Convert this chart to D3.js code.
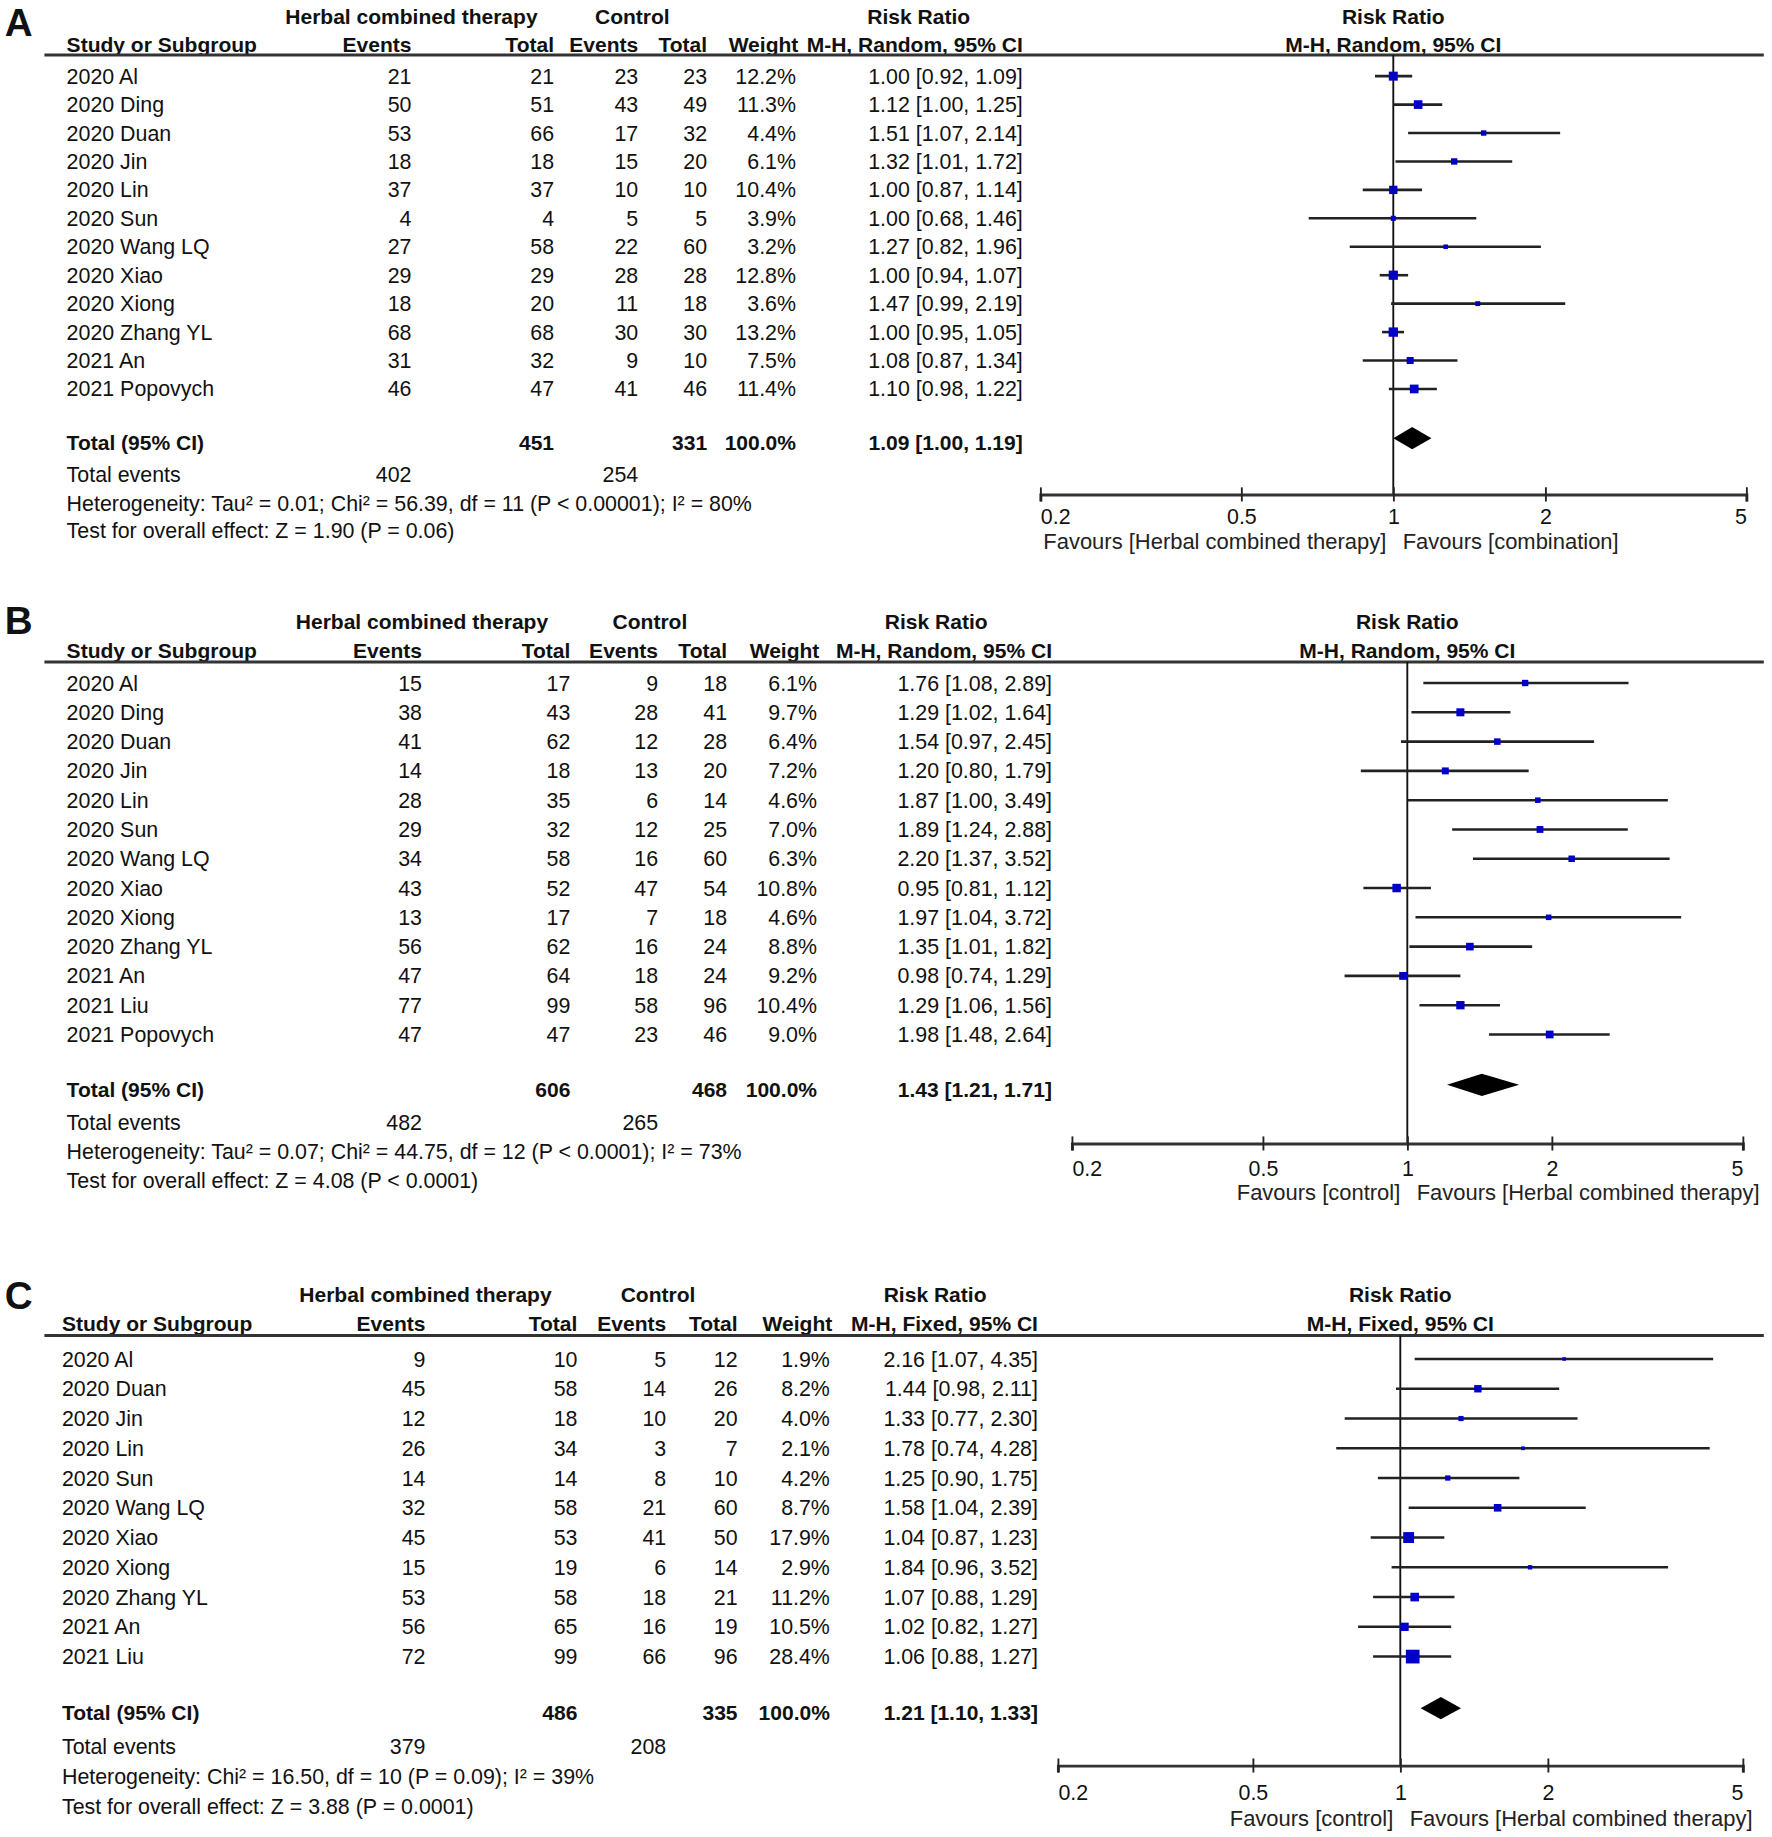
<!DOCTYPE html>
<html>
<head>
<meta charset="utf-8">
<script src="https://cdn.jsdelivr.net/npm/d3@7"></script>
<style>
  body { margin: 0; background: #fff; }
  svg { display: block; }
  text { font-family: "Liberation Sans", Arial, sans-serif; fill: #111; font-size: 18.3px; }
  text.b { font-size: 18px; font-weight: bold; }
</style>
</head>
<body>
<div id="chart"></div>
<script>
// study, herbal events, herbal total, control events, control total, weight %, RR, lower, upper
var rowsA = [
  ["2020 Al", 21, 21, 23, 23, 12.2, 1.00, 0.92, 1.09],
  ["2020 Ding", 50, 51, 43, 49, 11.3, 1.12, 1.00, 1.25],
  ["2020 Duan", 53, 66, 17, 32, 4.4, 1.51, 1.07, 2.14],
  ["2020 Jin", 18, 18, 15, 20, 6.1, 1.32, 1.01, 1.72],
  ["2020 Lin", 37, 37, 10, 10, 10.4, 1.00, 0.87, 1.14],
  ["2020 Sun", 4, 4, 5, 5, 3.9, 1.00, 0.68, 1.46],
  ["2020 Wang LQ", 27, 58, 22, 60, 3.2, 1.27, 0.82, 1.96],
  ["2020 Xiao", 29, 29, 28, 28, 12.8, 1.00, 0.94, 1.07],
  ["2020 Xiong", 18, 20, 11, 18, 3.6, 1.47, 0.99, 2.19],
  ["2020 Zhang YL", 68, 68, 30, 30, 13.2, 1.00, 0.95, 1.05],
  ["2021 An", 31, 32, 9, 10, 7.5, 1.08, 0.87, 1.34],
  ["2021 Popovych", 46, 47, 41, 46, 11.4, 1.10, 0.98, 1.22]
];
var rowsB = [
  ["2020 Al", 15, 17, 9, 18, 6.1, 1.76, 1.08, 2.89],
  ["2020 Ding", 38, 43, 28, 41, 9.7, 1.29, 1.02, 1.64],
  ["2020 Duan", 41, 62, 12, 28, 6.4, 1.54, 0.97, 2.45],
  ["2020 Jin", 14, 18, 13, 20, 7.2, 1.20, 0.80, 1.79],
  ["2020 Lin", 28, 35, 6, 14, 4.6, 1.87, 1.00, 3.49],
  ["2020 Sun", 29, 32, 12, 25, 7.0, 1.89, 1.24, 2.88],
  ["2020 Wang LQ", 34, 58, 16, 60, 6.3, 2.20, 1.37, 3.52],
  ["2020 Xiao", 43, 52, 47, 54, 10.8, 0.95, 0.81, 1.12],
  ["2020 Xiong", 13, 17, 7, 18, 4.6, 1.97, 1.04, 3.72],
  ["2020 Zhang YL", 56, 62, 16, 24, 8.8, 1.35, 1.01, 1.82],
  ["2021 An", 47, 64, 18, 24, 9.2, 0.98, 0.74, 1.29],
  ["2021 Liu", 77, 99, 58, 96, 10.4, 1.29, 1.06, 1.56],
  ["2021 Popovych", 47, 47, 23, 46, 9.0, 1.98, 1.48, 2.64]
];
var rowsC = [
  ["2020 Al", 9, 10, 5, 12, 1.9, 2.16, 1.07, 4.35],
  ["2020 Duan", 45, 58, 14, 26, 8.2, 1.44, 0.98, 2.11],
  ["2020 Jin", 12, 18, 10, 20, 4.0, 1.33, 0.77, 2.30],
  ["2020 Lin", 26, 34, 3, 7, 2.1, 1.78, 0.74, 4.28],
  ["2020 Sun", 14, 14, 8, 10, 4.2, 1.25, 0.90, 1.75],
  ["2020 Wang LQ", 32, 58, 21, 60, 8.7, 1.58, 1.04, 2.39],
  ["2020 Xiao", 45, 53, 41, 50, 17.9, 1.04, 0.87, 1.23],
  ["2020 Xiong", 15, 19, 6, 14, 2.9, 1.84, 0.96, 3.52],
  ["2020 Zhang YL", 53, 58, 18, 21, 11.2, 1.07, 0.88, 1.29],
  ["2021 An", 56, 65, 16, 19, 10.5, 1.02, 0.82, 1.27],
  ["2021 Liu", 72, 99, 66, 96, 28.4, 1.06, 0.88, 1.27]
];

// herbal total, control total, weight, RR, lower, upper
var totalA = [451, 331, 100.0, 1.09, 1.00, 1.19];
var totalB = [606, 468, 100.0, 1.43, 1.21, 1.71];
var totalC = [486, 335, 100.0, 1.21, 1.10, 1.33];
// total events: herbal, control
var eventsA = [402, 254];
var eventsB = [482, 265];
var eventsC = [379, 208];

var hetA = "Heterogeneity: Tau² = 0.01; Chi² = 56.39, df = 11 (P < 0.00001); I² = 80%";
var hetB = "Heterogeneity: Tau² = 0.07; Chi² = 44.75, df = 12 (P < 0.0001); I² = 73%";
var hetC = "Heterogeneity: Chi² = 16.50, df = 10 (P = 0.09); I² = 39%";
var testA = "Test for overall effect: Z = 1.90 (P = 0.06)";
var testB = "Test for overall effect: Z = 4.08 (P < 0.0001)";
var testC = "Test for overall effect: Z = 3.88 (P = 0.0001)";
var favoursA = ["Favours [Herbal combined therapy]", "Favours [combination]"];
var favoursB = ["Favours [control]", "Favours [Herbal combined therapy]"];
var favoursC = ["Favours [control]", "Favours [Herbal combined therapy]"];

var tickValues = [0.2, 0.5, 1, 2, 5];

// drawing happens in a 1516 x 1568 coordinate space, stretched to the page
var VW = 1516, VH = 1568;

var svg = d3.select("#chart")
  .append("svg")
    .attr("width", 1772)
    .attr("height", 1837)
    .attr("viewBox", "0 0 " + VW + " " + VH)
    .attr("preserveAspectRatio", "none");

svg.append("rect").attr("width", VW).attr("height", VH).attr("fill", "#fff");
svg.append("clipPath").attr("id", "clip")
  .append("rect").attr("width", 1509).attr("height", VH);

var root = svg.append("g").attr("clip-path", "url(#clip)");

function ci(rr, lo, hi) {
  return rr.toFixed(2) + " [" + lo.toFixed(2) + ", " + hi.toFixed(2) + "]";
}

function label(g, x, y, s, anchor, bold) {
  return g.append("text")
    .attr("class", bold ? "b" : null)
    .attr("x", x).attr("y", y).attr("dy", "0.35em")
    .attr("text-anchor", anchor || "start")
    .text(s);
}

function drawPanel(p) {
  var g = root.append("g");
  var c = p.cols;

  var y = d3.scaleLinear()
    .domain([0, p.rows.length - 1])
    .range([p.row0, p.rowN]);

  var x = d3.scaleLog()
    .domain([0.2, 5])
    .range(p.axisRange);

  // panel letter
  g.append("text")
    .attr("x", 4).attr("y", p.letterY)
    .style("font-size", "33px").style("font-weight", "bold")
    .style("font-family", "'Liberation Sans', Arial, sans-serif")
    .text(p.label);

  // headers
  label(g, c[0], p.h1, "Herbal combined therapy", "middle", true);
  label(g, p.controlX, p.h1, "Control", "middle", true);
  label(g, p.rrX, p.h1, "Risk Ratio", "middle", true);
  label(g, x(1), p.h1, "Risk Ratio", "middle", true);

  label(g, p.nameX, p.h2, "Study or Subgroup", "start", true);
  label(g, c[0], p.h2, "Events", "end", true);
  label(g, c[1], p.h2, "Total", "end", true);
  label(g, c[2], p.h2, "Events", "end", true);
  label(g, c[3], p.h2, "Total", "end", true);
  label(g, c[4] + 2, p.h2, "Weight", "end", true);
  label(g, c[5], p.h2, p.method, "end", true);
  label(g, x(1), p.h2, p.method, "middle", true);

  g.append("line")
    .attr("x1", 38).attr("x2", 1511)
    .attr("y1", p.line).attr("y2", p.line)
    .attr("stroke", "#333").attr("stroke-width", 2.5);

  // line of no effect
  g.append("line")
    .attr("x1", x(1)).attr("x2", x(1))
    .attr("y1", p.line).attr("y2", p.axisY)
    .attr("stroke", "#111").attr("stroke-width", 1.6);

  // study rows
  var rows = g.selectAll(".row")
    .data(p.rows)
    .join("g")
      .attr("class", "row")
      .attr("transform", function(d, i) { return "translate(0," + y(i) + ")"; });

  rows.append("text").attr("x", p.nameX).text(function(d) { return d[0]; });
  [1, 2, 3, 4].forEach(function(k, j) {
    rows.append("text").attr("x", c[j]).attr("text-anchor", "end")
      .text(function(d) { return d[k]; });
  });
  rows.append("text").attr("x", c[4]).attr("text-anchor", "end")
    .text(function(d) { return d[5].toFixed(1) + "%"; });
  rows.append("text").attr("x", c[5]).attr("text-anchor", "end")
    .text(function(d) { return ci(d[6], d[7], d[8]); });
  rows.selectAll("text").attr("dy", "0.35em");

  rows.append("line")
    .attr("x1", function(d) { return x(d[7]); })
    .attr("x2", function(d) { return x(d[8]); })
    .attr("stroke", "#222").attr("stroke-width", 2.2);

  var half = function(d) { return 1.1 * Math.sqrt(d[5]); };
  rows.append("rect")
    .attr("x", function(d) { return x(d[6]) - half(d); })
    .attr("y", function(d) { return -half(d); })
    .attr("width", function(d) { return 2 * half(d); })
    .attr("height", function(d) { return 2 * half(d); })
    .attr("fill", "#0000c8");

  // total row
  var t = p.total;
  label(g, p.nameX, p.totalY, "Total (95% CI)", "start", true);
  label(g, c[1], p.totalY, t[0], "end", true);
  label(g, c[3], p.totalY, t[1], "end", true);
  label(g, c[4], p.totalY, t[2].toFixed(1) + "%", "end", true);
  label(g, c[5], p.totalY, ci(t[3], t[4], t[5]), "end", true);

  g.append("path")
    .attr("d", d3.line()([
      [x(t[4]), p.totalY - 4],
      [x(t[3]), p.totalY - 13.5],
      [x(t[5]), p.totalY - 4],
      [x(t[3]), p.totalY + 5.5]
    ]) + "Z")
    .attr("fill", "#000");

  label(g, p.nameX, p.eventsY, "Total events");
  label(g, c[0], p.eventsY, p.events[0], "end");
  label(g, c[2], p.eventsY, p.events[1], "end");
  label(g, p.nameX, p.hetY, p.het);
  label(g, p.nameX, p.testY, p.test);

  // log axis
  var axis = g.append("g")
    .attr("transform", "translate(0," + p.axisY + ")")
    .call(d3.axisBottom(x)
      .tickValues(tickValues)
      .tickFormat(function(d) { return String(d); })
      .tickSizeOuter(0)
      .tickSize(6));
  axis.select(".domain").attr("stroke", "#333").attr("stroke-width", 2.5);
  axis.selectAll(".tick line").attr("y1", -6).attr("y2", 6)
    .attr("stroke", "#222").attr("stroke-width", 1.6);
  axis.selectAll(".tick text")
    .attr("y", p.tickY - p.axisY).attr("dy", "0.35em")
    .style("font-size", "18.3px")
    .attr("text-anchor", function(d, i) {
      return i === 0 ? "start" : i === tickValues.length - 1 ? "end" : "middle";
    });

  label(g, x(1) - 6, p.favY, p.favours[0], "end").style("font-size", "18.8px").style("fill", "#222");
  label(g, x(1) + 8, p.favY, p.favours[1], "start").style("font-size", "18.8px").style("fill", "#222");
}

drawPanel({
  label: "A", rows: rowsA, total: totalA, events: eventsA,
  het: hetA, test: testA, favours: favoursA, method: "M-H, Random, 95% CI",
  letterY: 31, h1: 14, h2: 38, line: 47,
  row0: 65, rowN: 332, totalY: 378, eventsY: 405, hetY: 430, testY: 453,
  axisY: 422, tickY: 441, favY: 462,
  nameX: 57, cols: [352, 474, 546, 605, 681, 875],
  controlX: 541, rrX: 786, axisRange: [890, 1494]
});

drawPanel({
  label: "B", rows: rowsB, total: totalB, events: eventsB,
  het: hetB, test: testB, favours: favoursB, method: "M-H, Random, 95% CI",
  letterY: 541, h1: 531, h2: 555, line: 565,
  row0: 583, rowN: 883, totalY: 930, eventsY: 958, hetY: 983, testY: 1008,
  axisY: 976, tickY: 997, favY: 1018,
  nameX: 57, cols: [361, 488, 563, 622, 699, 900],
  controlX: 556, rrX: 801, axisRange: [917, 1491]
});

drawPanel({
  label: "C", rows: rowsC, total: totalC, events: eventsC,
  het: hetC, test: testC, favours: favoursC, method: "M-H, Fixed, 95% CI",
  letterY: 1117, h1: 1105, h2: 1130, line: 1140,
  row0: 1160, rowN: 1414, totalY: 1462, eventsY: 1491, hetY: 1516, testY: 1542,
  axisY: 1507, tickY: 1530, favY: 1552,
  nameX: 53, cols: [364, 494, 570, 631, 710, 888],
  controlX: 563, rrX: 800, axisRange: [905, 1491]
});
</script>
</body>
</html>
